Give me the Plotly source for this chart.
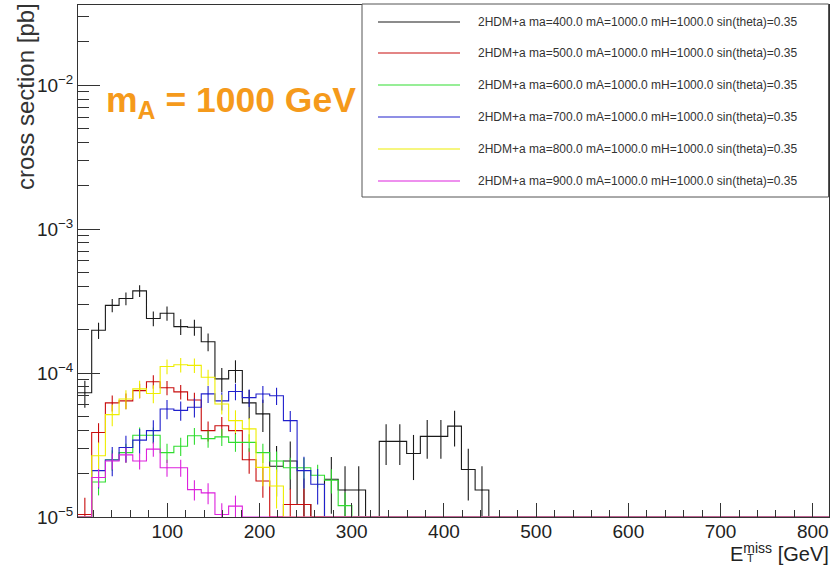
import numpy as np
import plotly.graph_objects as go

# ---- histogram binning (missing transverse energy, GeV) ----
BIN_LO = 3.2
BIN_WIDTH = 14.85
N_BINS = 55
X_RANGE = [3.2, 817.6]
Y_FLOOR = 1e-5
Y_RANGE_LOG = [-5.0, -1.444]

# ---- series: cross section per bin [pb], empty bins are 0 ----
labels = [
    "2HDM+a ma=400.0 mA=1000.0 mH=1000.0 sin(theta)=0.35",
    "2HDM+a ma=500.0 mA=1000.0 mH=1000.0 sin(theta)=0.35",
    "2HDM+a ma=600.0 mA=1000.0 mH=1000.0 sin(theta)=0.35",
    "2HDM+a ma=700.0 mA=1000.0 mH=1000.0 sin(theta)=0.35",
    "2HDM+a ma=800.0 mA=1000.0 mH=1000.0 sin(theta)=0.35",
    "2HDM+a ma=900.0 mA=1000.0 mH=1000.0 sin(theta)=0.35",
]
colors = ["#1a1a1a", "#c80c0c", "#30dd30", "#2020cc", "#eeee00", "#dd22dd"]

xsec_ma400 = [7.3e-5, 1.98e-4, 2.95e-4, 3.29e-4, 3.72e-4, 2.39e-4, 2.6e-4, 2.1e-4,
              2.08e-4, 1.65e-4, 9.1e-5, 1.04e-4, 6.2e-5, 5.2e-5, 2.25e-5, 2.45e-5,
              1.22e-5, 0, 1.83e-5, 1.54e-5, 1.54e-5, 0, 3.35e-5, 3.35e-5,
              2.76e-5, 3.63e-5, 3.63e-5, 4.28e-5, 2.14e-5, 1.54e-5]
xsec_ma500 = [1.04e-5, 3.86e-5, 6.2e-5, 6.4e-5, 7.55e-5, 8.7e-5, 7.9e-5, 7.4e-5,
              6.5e-5, 3.98e-5, 4.3e-5, 3.98e-5, 2.5e-5, 1.78e-5, 0, 1.22e-5, 1.22e-5]
xsec_ma600 = [0, 1.75e-5, 2.5e-5, 2.8e-5, 3.7e-5, 3.7e-5, 2.8e-5, 3.1e-5,
              3.67e-5, 3.5e-5, 3.6e-5, 3.3e-5, 3.3e-5, 2.8e-5, 2.45e-5, 2.2e-5,
              2.2e-5, 1.95e-5, 1.8e-5, 1.2e-5]
xsec_ma700 = [0, 2.1e-5, 2.49e-5, 3.04e-5, 3.42e-5, 3.98e-5, 5.63e-5, 5.5e-5,
              5.78e-5, 7.16e-5, 6.4e-5, 7.45e-5, 6.75e-5, 7.15e-5, 6.95e-5, 4.67e-5,
              2.1e-5, 1.69e-5]
xsec_ma800 = [0, 2.66e-5, 5.14e-5, 6.6e-5, 7.76e-5, 7.2e-5, 1.11e-4, 1.14e-4,
              1.13e-4, 9.35e-5, 6.1e-5, 4.67e-5, 4.09e-5, 2.21e-5, 1.64e-5]
xsec_ma900 = [0, 1.88e-5, 2.45e-5, 2.7e-5, 2.45e-5, 2.96e-5, 2.2e-5, 2.2e-5,
              1.55e-5, 1.47e-5, 1.04e-5, 1.19e-5]

# per-event MC weight of each sample [pb]; bin error = sqrt(sum w^2) = sqrt(value * w)
event_weight = [3.3e-6, 1.0e-6, 6.5e-7, 1.3e-6, 1.5e-6, 4.0e-7]

series = [xsec_ma400, xsec_ma500, xsec_ma600, xsec_ma700, xsec_ma800, xsec_ma900]

# ---- frame geometry (pixels) used for the hand-placed legend / labels ----
W, H = 831, 565
L, R, T, B = 78, 829, 5, 517
FONT = "Liberation Sans, Arial, sans-serif"


def px_x(p):
    return (p - L) / (R - L)


def px_y(p):
    return (B - p) / (B - T)


edges = BIN_LO + BIN_WIDTH * np.arange(N_BINS + 1)
centers = 0.5 * (edges[:-1] + edges[1:])

fig = go.Figure()

for vals, col, w in zip(series, colors, event_weight):
    v = np.zeros(N_BINS)
    v[:len(vals)] = vals
    shown = np.where(v > 0, v, Y_FLOOR)
    # step outline
    fig.add_trace(go.Scatter(
        x=edges, y=np.append(shown, shown[-1]), mode="lines",
        line=dict(color=col, width=1.1, shape="hv"),
        hoverinfo="skip", showlegend=False))
    # statistical error bars at bin centres
    nz = v > 0
    err = np.sqrt(v[nz] * w)
    fig.add_trace(go.Scatter(
        x=centers[nz], y=v[nz], mode="markers",
        marker=dict(size=1, color=col),
        error_y=dict(type="data", array=err,
                     arrayminus=np.minimum(err, v[nz] * 0.999),
                     width=0, thickness=1.1, color=col),
        hoverinfo="skip", showlegend=False))

axis_col = "#333333"
tick_font = dict(family=FONT, size=19, color="#222222")

fig.update_xaxes(
    range=X_RANGE, showgrid=False, zeroline=False,
    showline=True, linecolor=axis_col, linewidth=1, mirror=True,
    ticks="inside", ticklen=14, tickcolor=axis_col, tickwidth=1,
    tickmode="array", tickvals=[100, 200, 300, 400, 500, 600, 700, 800],
    ticktext=["100", "200", "300", "400", "500", "600", "700", "800"],
    tickfont=tick_font, ticklabelstandoff=-3,
    minor=dict(ticks="inside", ticklen=7, tickcolor=axis_col, tickwidth=1,
               tickmode="linear", tick0=0, dtick=20, showgrid=False),
)

decades = [1e-5, 1e-4, 1e-3, 1e-2]
minor_vals = [m * d for d in decades for m in range(2, 10)]
fig.update_yaxes(
    type="log", range=Y_RANGE_LOG, showgrid=False, zeroline=False,
    showline=True, linecolor=axis_col, linewidth=1, mirror=True,
    ticks="inside", ticklen=22, tickcolor=axis_col, tickwidth=1,
    tickmode="array", tickvals=decades,
    ticktext=["10<sup>\u22125</sup>", "10<sup>\u22124</sup>",
              "10<sup>\u22123</sup>", "10<sup>\u22122</sup>"],
    tickfont=tick_font,
    minor=dict(ticks="inside", ticklen=11, tickcolor=axis_col, tickwidth=1,
               tickmode="array", tickvals=minor_vals, showgrid=False),
)

shapes = []
annotations = []

# legend box
shapes.append(dict(type="rect", xref="paper", yref="paper",
                   x0=px_x(362), x1=px_x(828.5), y0=px_y(197), y1=px_y(4),
                   line=dict(color="#555555", width=1), fillcolor="white", layer="above"))
row_y = [22, 53, 85, 117, 149, 181]
for lab, col, ry in zip(labels, colors, row_y):
    shapes.append(dict(type="line", xref="paper", yref="paper",
                       x0=px_x(378), x1=px_x(460), y0=px_y(ry), y1=px_y(ry),
                       line=dict(color=col, width=1.2), layer="above"))
    annotations.append(dict(text=lab, xref="paper", yref="paper",
                            x=px_x(476), y=px_y(ry), xanchor="left", yanchor="middle",
                            showarrow=False,
                            font=dict(family=FONT, size=12, color="#333333")))

# mass label
annotations.append(dict(text="<b>m<sub>A</sub> = 1000 GeV</b>", xref="paper", yref="paper",
                        x=px_x(104), y=px_y(102), xanchor="left", yanchor="middle",
                        showarrow=False,
                        font=dict(family=FONT, size=35.5, color="#f59a1b")))

# axis titles
annotations.append(dict(text="cross section [pb]", xref="paper", yref="paper",
                        x=px_x(25), y=px_y(97), xanchor="center", yanchor="middle",
                        textangle=-90, showarrow=False,
                        font=dict(family=FONT, size=24, color="#333333")))
annotations.append(dict(text="E<sup>miss</sup> [GeV]", xref="paper", yref="paper",
                        x=px_x(831), y=px_y(552), xanchor="right", yanchor="middle",
                        showarrow=False,
                        font=dict(family=FONT, size=20, color="#222222")))
annotations.append(dict(text="T", xref="paper", yref="paper",
                        x=px_x(745), y=px_y(558), xanchor="left", yanchor="middle",
                        showarrow=False,
                        font=dict(family=FONT, size=11, color="#222222")))

fig.update_layout(
    width=W, height=H,
    margin=dict(l=L, r=W - R, t=T, b=H - B, pad=0),
    plot_bgcolor="white", paper_bgcolor="white",
    showlegend=False,
    shapes=shapes, annotations=annotations,
    font=dict(family=FONT),
)

fig.write_html("out.html")
